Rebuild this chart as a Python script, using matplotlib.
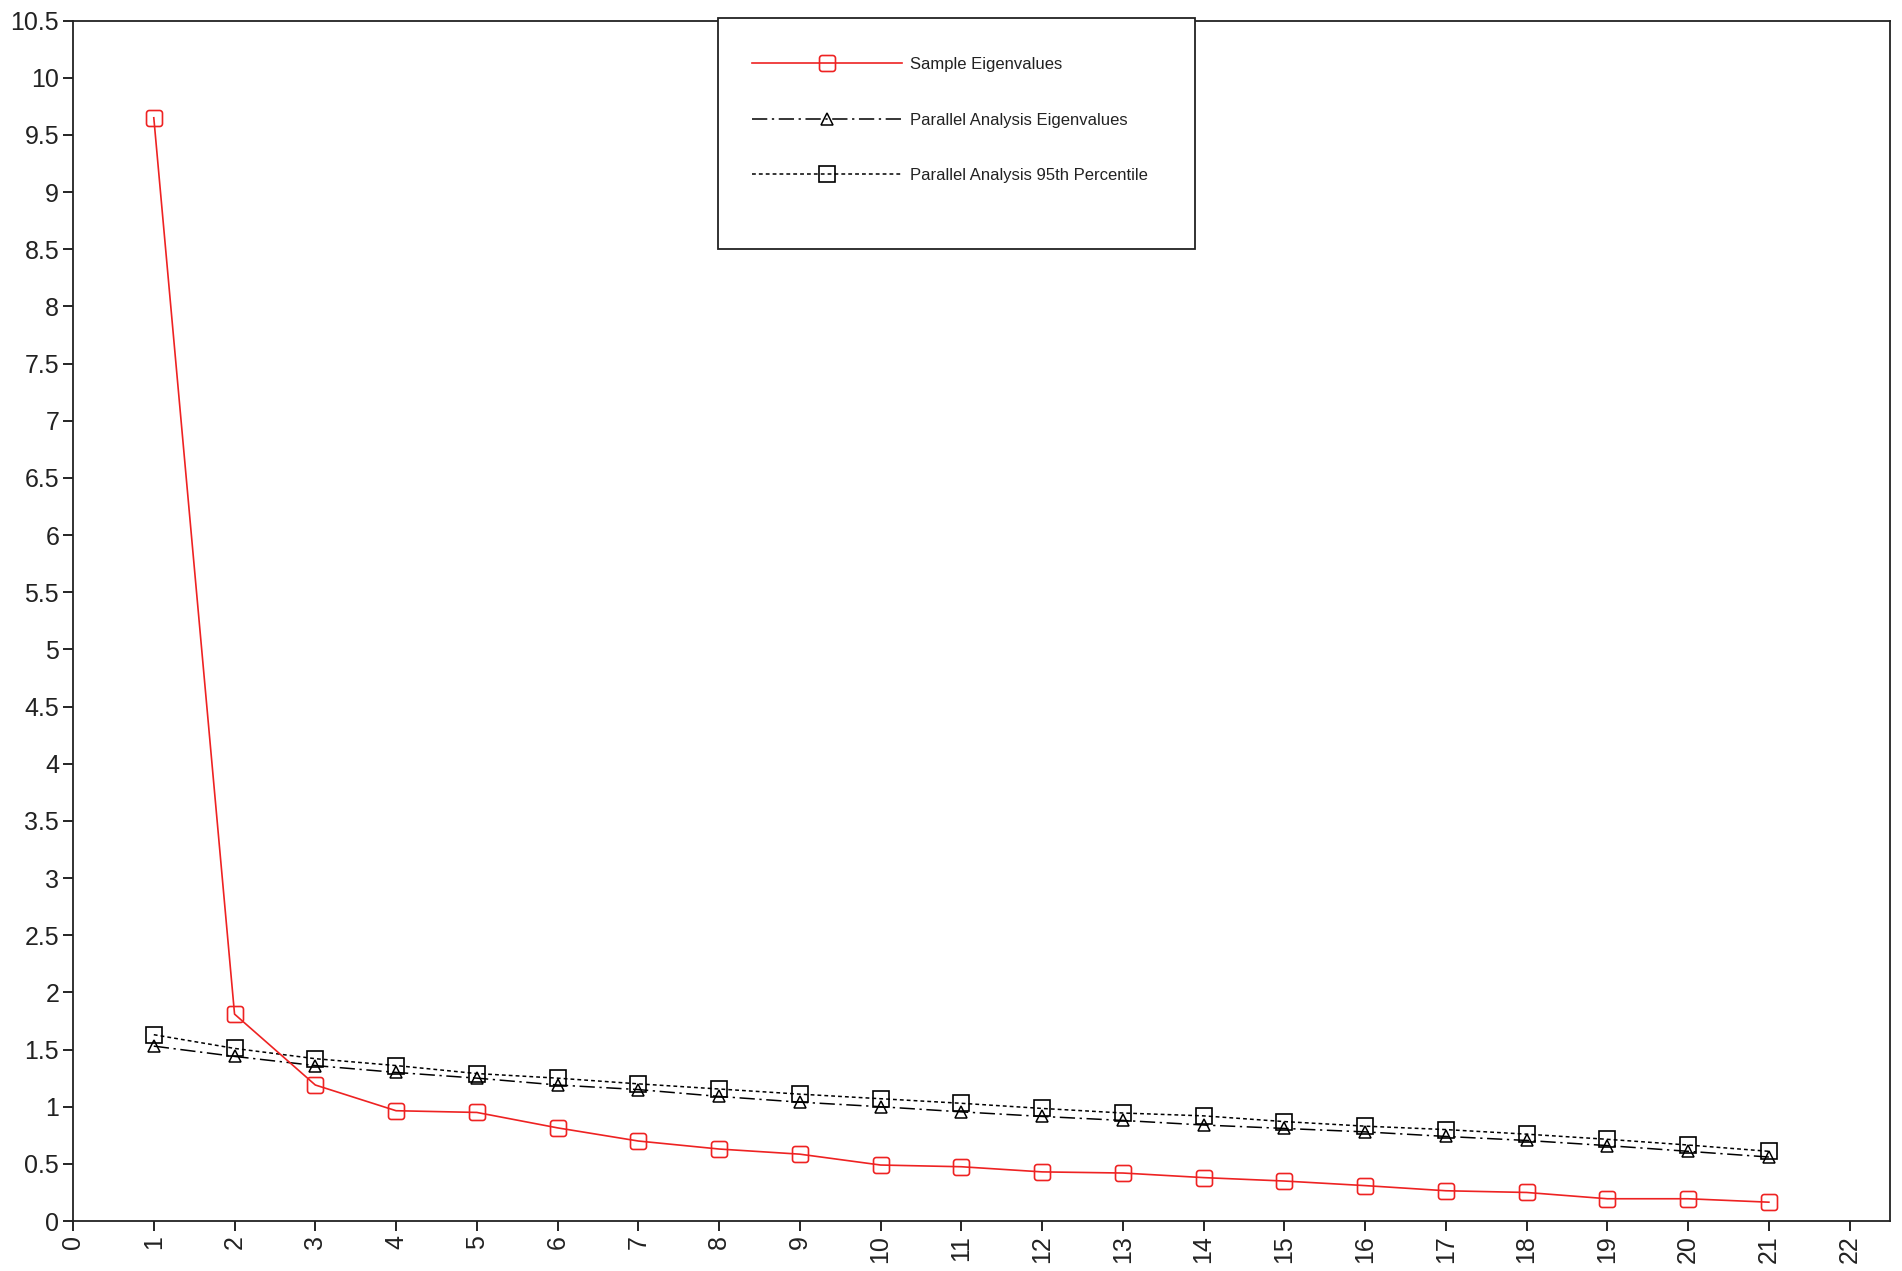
import numpy as np
import matplotlib
matplotlib.use("Agg")
import matplotlib.pyplot as plt
from matplotlib.path import Path
from matplotlib.patches import Rectangle

plt.rcParams['font.family'] = ['Liberation Sans', 'DejaVu Sans']

# data
factors = list(range(1, 22))
sample_eig = [9.65, 1.81, 1.19, 0.965, 0.95, 0.815, 0.70, 0.63, 0.585, 0.49, 0.475,
              0.43, 0.42, 0.38, 0.35, 0.31, 0.265, 0.25, 0.195, 0.195, 0.165]
pa_eig = [1.53, 1.44, 1.36, 1.30, 1.25, 1.19, 1.15, 1.09, 1.04, 1.00, 0.955,
          0.915, 0.88, 0.84, 0.81, 0.78, 0.74, 0.705, 0.66, 0.61, 0.56]
pa_95 = [1.63, 1.51, 1.42, 1.36, 1.29, 1.25, 1.20, 1.155, 1.11, 1.07, 1.03,
         0.985, 0.945, 0.92, 0.87, 0.83, 0.80, 0.76, 0.715, 0.665, 0.61]
labels = ['Sample Eigenvalues', 'Parallel Analysis Eigenvalues',
          'Parallel Analysis 95th Percentile']
xticks = list(range(0, 23))
yticks = [i * 0.5 for i in range(22)]


def rounded_square(r=0.35, n=8):
    # square marker with rounded corners
    verts = []
    for cx, cy, a0 in [(1 - r, 1 - r, 0), (-1 + r, 1 - r, 90),
                       (-1 + r, -1 + r, 180), (1 - r, -1 + r, 270)]:
        for t in np.linspace(a0, a0 + 90, n):
            verts.append((cx + r * np.cos(np.radians(t)), cy + r * np.sin(np.radians(t))))
    verts.append(verts[0])
    codes = [Path.MOVETO] + [Path.LINETO] * (len(verts) - 2) + [Path.CLOSEPOLY]
    return Path(verts, codes)


rsq = rounded_square()

fig = plt.figure(figsize=(19.02, 12.71), dpi=100)
ax = fig.add_axes([0.0384, 0.0393, 0.9553, 0.9445])

ax.plot(factors, pa_eig, color='black', lw=1.1, dashes=(10, 3, 1.5, 3),
        marker='^', markersize=8, markerfacecolor='none', markeredgecolor='black',
        markeredgewidth=1.1, label=labels[1], zorder=2)
ax.plot(factors, pa_95, color='black', lw=1.1, dashes=(2.5, 2),
        marker='s', markersize=11, markerfacecolor='none', markeredgecolor='black',
        markeredgewidth=1.2, label=labels[2], zorder=3)
ax.plot(factors, sample_eig, color='#ee2222', lw=1.2,
        marker=rsq, markersize=11.5, markerfacecolor='none', markeredgecolor='#ee2222',
        markeredgewidth=1.2, label=labels[0], zorder=4)

ax.set_xlim(0, 22.5)
ax.set_ylim(0, 10.5)
ax.set_xticks(xticks)
ax.set_xticklabels([str(v) for v in xticks], rotation=90)
ax.set_yticks(yticks)
ax.set_yticklabels(['%g' % v for v in yticks])
ax.tick_params(direction='out', length=7, width=1.2, labelsize=18,
               colors='black', labelcolor='#222222', pad=3)
for s in ax.spines.values():
    s.set_linewidth(1.3)
    s.set_color('#222222')

# legend frame and entries
fig.patches.append(Rectangle((718 / 1902, 1 - 249 / 1271), 477 / 1902, 231 / 1271,
                             transform=fig.transFigure, facecolor='white',
                             edgecolor='#222222', lw=1.3, zorder=5))
h, l = ax.get_legend_handles_labels()
order = [2, 0, 1]
leg = fig.legend([h[i] for i in order], [l[i] for i in order],
                 loc='upper left', bbox_to_anchor=(752 / 1902, 1 - 57 / 1271),
                 frameon=False, fontsize=12, handlelength=9.0, handletextpad=0.45,
                 labelspacing=2.43, borderpad=0, borderaxespad=0, numpoints=1)
leg.set_zorder(6)
for t in leg.get_texts():
    t.set_color('#222222')

fig.savefig('out.png', dpi=100)
